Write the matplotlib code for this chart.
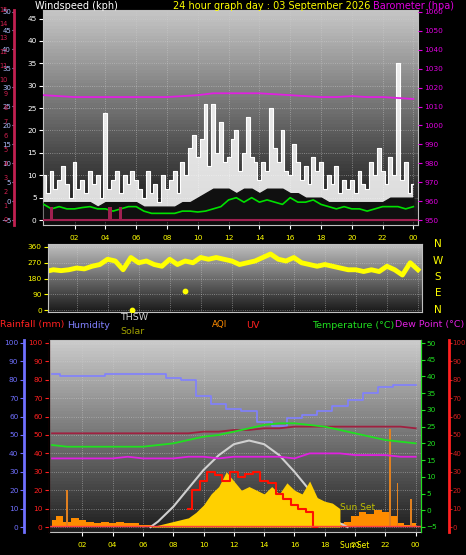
import numpy as np
import matplotlib
matplotlib.use("Agg")
import matplotlib.pyplot as plt

# ---------------- data ----------------
t15 = np.arange(0, 24.01, 0.25)
gust = [10,6,11,7,9,12,8,5, 13,7,9,6,11,8,10,5, 24,7,9,11,6,10,8,11,
        9,7,5,11,6,8,4,10, 7,9,11,6,13,10,16,19, 14,18,26,12,26,15,22,13,
        14,18,20,11,15,23,14,13, 9,13,11,25,16,13,20,11, 10,17,13,9,12,8,14,11,
        13,7,10,8,12,6,9,7, 9,6,11,8,7,13,10,16, 11,8,14,10,35,9,13,6, 8]
t30 = np.arange(0, 24.01, 0.5)
wind_low = [4,4,4,4,4,4,4,3,4,4,4,4,4,3,3,3,3,3,4,4,5,6,7,7,7,6,7,7,6,7,7,7,
            6,6,5,5,5,4,4,4,4,4,4,4,4,5,5,5,5]
wind_avg = [3.5,2.5,3,2.5,2.5,2.8,3,2.5,2.5,2,2.5,3,3,2,1.5,1.5,1.5,1.5,2,2,1.8,2,2.5,3,
            4.5,5,4,5,4,4.5,4,3.5,5,4,4,4.5,3.5,3,2.5,3,2.5,2.5,2,2.5,3,3,3,2.5,3]
t1 = np.arange(0, 25, 1)
baro = [1016,1015.5,1015,1015,1015,1015,1015,1015,1015,1015.5,1016,1017,1017,1017,
        1017,1016.5,1016,1015.5,1015,1015,1015.5,1015,1015,1014.5,1014]
wdir = [220,230,225,230,240,235,250,260,290,280,230,300,270,280,260,250,290,260,280,
        270,300,290,300,290,280,260,270,280,300,320,290,280,300,270,260,250,260,250,
        240,230,230,220,230,220,250,230,200,270,230]
humidity = [83,82,82,82,83,83,83,83,81,80,71,67,64,63,57,55,59,61,63,66,69,73,76,77,77]
temperature = [19.5,19,19,19,19,19,19,19.5,20,21,22,22.5,23.5,24.5,25.5,26,26,25.5,
               25,24,23,22,21,20.5,20]
dewpoint = [15.5,15.5,15.5,15.5,15.5,16,15.5,15.5,15.5,16,16,15.5,16,16,16,16,15.5,
            17,17,17,16.5,16.5,16.5,16,16]
thsw = [23,23,23,23,23,23,23,23,23,23,23.5,23.5,24,24,24.5,24.5,25,25,25,25,25,25,
        25,25,24.5]
t_sun = [6.5,7,8,9,10,11,12,13,14,15,16,17,18,19,19.5]
sun_curve = [0,3,11,21,31,39,45,47,45,39,30,20,10,2,0]
t_sol = np.arange(6.5, 19.01, 0.5)
solar = [0,1,2,3,4,5,8,12,18,22,30,25,20,22,20,18,22,18,24,20,18,25,16,14,13,10]
t_uv = np.arange(9, 17.51, 0.5)
uv = [10,20,25,30,28,25,30,27,29,30,25,24,18,15,12,10,8,0]
aqi = [4,6,3,5,4,3,2,3,2,3,2,2,1,1,0,1,2,3,4,5,5,6,5,6,5,4,4,5,4,3,3,2,
       2,2,3,2,2,1,2,3,6,8,7,9,8,6,2,1,2]
spike_t = [1.0, 22.3, 22.8, 23.7]
spike_v = [20, 53, 24, 15]

# ---------------- figure ----------------
W, H = 466, 555
fig = plt.figure(figsize=(W/100, H/100), dpi=100, facecolor='black')
fs = 5.3

def rect(l, t, r, b):
    return [l/W, 1-b/H, (r-l)/W, (b-t)/H]

def grad(ax, top, bot):
    g = np.linspace(top, bot, 64)[:, None]
    ax.imshow(np.repeat(g[:, :, None], 3, axis=2), extent=[0, 1, 0, 1],
              transform=ax.transAxes, aspect='auto', zorder=0)

def style(ax, ycol='white'):
    ax.set_facecolor('black')
    for s in ax.spines.values():
        s.set_color('#c0c0c0')
    ax.tick_params(colors=ycol, labelsize=fs, length=3, width=0.8, pad=1.5)
    ax.grid(True, color='#d0d0d0', ls=':', lw=0.6, alpha=0.6)

xt = list(range(2, 25, 2))
xtl = ['%02d' % (h % 24) for h in xt]

# ---- top panel ----
ax = fig.add_axes(rect(43, 10, 418, 225))
style(ax)
grad(ax, 0.78, 0.05)
ax.set_xlim(-0.05, 24.3)
ax.set_ylim(-1.1, 46.9)
ax.set_yticks(range(0, 46, 5))
ax.set_xticks(xt)
ax.set_xticklabels(xtl, color='#ffff00')
ax.tick_params(axis='x', pad=4)
ax.fill_between(t15, 0, gust, color='white', alpha=0.85, step='mid', lw=0, zorder=2)
ax.plot(t15, gust, color='white', lw=0.8, drawstyle='steps-mid', zorder=3)
ax.fill_between(t30, 0, wind_low, color='#101010', zorder=3)
ax.plot(t30, wind_avg, color='#00e000', lw=1.2, zorder=4)
ax.axhline(0, color='#a02050', lw=1.5, zorder=4)
ax.bar([0.5, 4.3, 5.0], [3, 3, 3], width=0.2, color='#a02050', zorder=4)
axb = ax.twinx()
axb.set_ylim(947.4, 1061)
axb.set_yticks(range(950, 1061, 10))
axb.tick_params(colors='#e000e0', labelsize=fs, length=3, pad=1.5)
axb.plot(t1, baro, color='#e020e0', lw=1.3)
for s in axb.spines.values():
    s.set_visible(False)
axl = ax.twinx()
axl.yaxis.set_ticks_position('left')
axl.spines['left'].set_position(('outward', 21))
axl.spines['left'].set_color('#c02050')
axl.spines['left'].set_linewidth(2)
axl.set_ylim(-6.3, 50.4)
axl.set_yticks(range(-5, 51, 5))
axl.tick_params(colors='#b0c0ff', labelsize=fs-0.3, length=1.5, pad=0.5)
axr = ax.twinx()
axr.yaxis.set_ticks_position('left')
axr.spines['left'].set_position(('outward', 25))
axr.spines['left'].set_visible(False)
axr.set_ylim(-0.43, 15.0)
axr.set_yticks(range(0, 16))
axr.tick_params(colors='#d02050', labelsize=fs-0.5, length=0, pad=0.5)
for a in (axl, axr):
    for k in ('right', 'top', 'bottom'):
        a.spines[k].set_visible(False)

fig.text(35/W, 1-6/H, 'Windspeed (kph)', color='white', fontsize=7, va='center')
fig.text(173/W, 1-6/H, '24 hour graph day : 03 September 2026', color='#ffff00', fontsize=7, va='center')
fig.text(373/W, 1-6/H, 'Barometer (hpa)', color='#e000e0', fontsize=7, va='center')

# ---- middle panel ----
am = fig.add_axes(rect(48, 244, 422, 312))
style(am, ycol='#ffff00')
grad(am, 0.75, 0.1)
am.set_xlim(0.16, 24.26)
am.set_ylim(-11, 377)
am.set_yticks([0, 90, 180, 270, 360])
am.set_xticks(xt)
am.tick_params(axis='x', labelbottom=False, length=0)
am.plot(t30, wdir, color='#ffff00', lw=3.5)
am.scatter([5.6, 9.0], [0, 110], color='#ffff00', s=10, zorder=5)
for i, c in enumerate(['N', 'W', 'S', 'E', 'N']):
    fig.text(438/W, 1-(244+i*16.5)/H, c, color='#ffff00', fontsize=7.5, ha='center', va='center')

# ---- bottom panel ----
ab = fig.add_axes(rect(49, 340, 421, 532))
style(ab)
grad(ab, 0.8, 0.12)
ab.set_xlim(-0.2, 24.35)
ab.set_ylim(-2.7, 101.6)
ab.set_xticks(xt)
ab.set_xticklabels(xtl, color='#ffff00')
ab.tick_params(axis='x', pad=4)
ab.set_yticks(range(0, 101, 10))
ab.tick_params(axis='y', colors='#ff2020', length=3)
ab.spines['left'].set_color('#ff2020')
ab.plot(t1, humidity, color='#8080ff', lw=1.2, drawstyle='steps-mid', zorder=3)
ab.plot(t_sun, sun_curve, color='#d0d0d0', lw=1.5, zorder=3)
ab.fill_between(t30, 0, aqi, color='#ff8c00', step='mid', lw=0, zorder=2)
ab.fill_between(t_sol, 0, solar, color='#ffd000', lw=0, zorder=3)
ab.plot(t_uv, uv, color='#ff1000', lw=1.5, drawstyle='steps-mid', zorder=4)
ab.bar(spike_t, spike_v, width=0.12, color='#e08020', zorder=4)
ab.axhline(0.5, color='#ff4040', lw=1, zorder=4)
ab.text(19.0, 9, 'Sun Set', color='#c0c000', fontsize=6.5, zorder=6)
ah = ab.twinx()
ah.yaxis.set_ticks_position('left')
ah.spines['left'].set_position(('outward', 18))
ah.spines['left'].set_color('#7070ff')
ah.spines['left'].set_linewidth(2)
ah.set_ylim(-2.7, 101.6)
ah.set_yticks(range(0, 101, 10))
ah.tick_params(colors='#7070ff', labelsize=fs, length=3, pad=1)
at = ab.twinx()
at.set_ylim(-6.5, 50.9)
at.set_yticks(range(-5, 51, 5))
at.tick_params(colors='#20e020', labelsize=fs, length=3, pad=1)
at.spines['right'].set_color('#20e020')
at.plot(t1, thsw, color='#a02040', lw=1.3)
at.plot(t1, temperature, color='#20e020', lw=1.3)
at.plot(t1, dewpoint, color='#e020e0', lw=1.3)
au = ab.twinx()
au.spines['right'].set_position(('outward', 20))
au.spines['right'].set_color('#ff2020')
au.spines['right'].set_linewidth(2)
au.set_ylim(-2.7, 101.6)
au.set_yticks(range(0, 101, 10))
au.tick_params(colors='#d02020', labelsize=fs-0.3, length=2, pad=0.5)
for a in (ah, at, au):
    for k in ('top', 'bottom'):
        a.spines[k].set_visible(False)
fig.text(340/W, 1-545/H, 'Sun Set', color='#ffff00', fontsize=5.5, va='center')

ly = 1-325/H
fig.text(0, ly, 'Rainfall (mm)', color='#ff2020', fontsize=6.8, va='center')
fig.text(67/W, ly, 'Humidity', color='#8080ff', fontsize=6.8, va='center')
fig.text(120/W, 1-318/H, 'THSW', color='#d0d0d0', fontsize=6.8, va='center')
fig.text(120/W, 1-332/H, 'Solar', color='#a0a000', fontsize=6.8, va='center')
fig.text(212/W, ly, 'AQI', color='#ff8c00', fontsize=6.3, va='center')
fig.text(246/W, ly, 'UV', color='#ff2020', fontsize=6.8, va='center')
fig.text(312/W, ly, 'Temperature (°C)', color='#20e020', fontsize=6.8, va='center')
fig.text(395/W, ly, 'Dew Point (°C)', color='#e020e0', fontsize=6.8, va='center')

fig.savefig('out.png', dpi=100, facecolor='black')
